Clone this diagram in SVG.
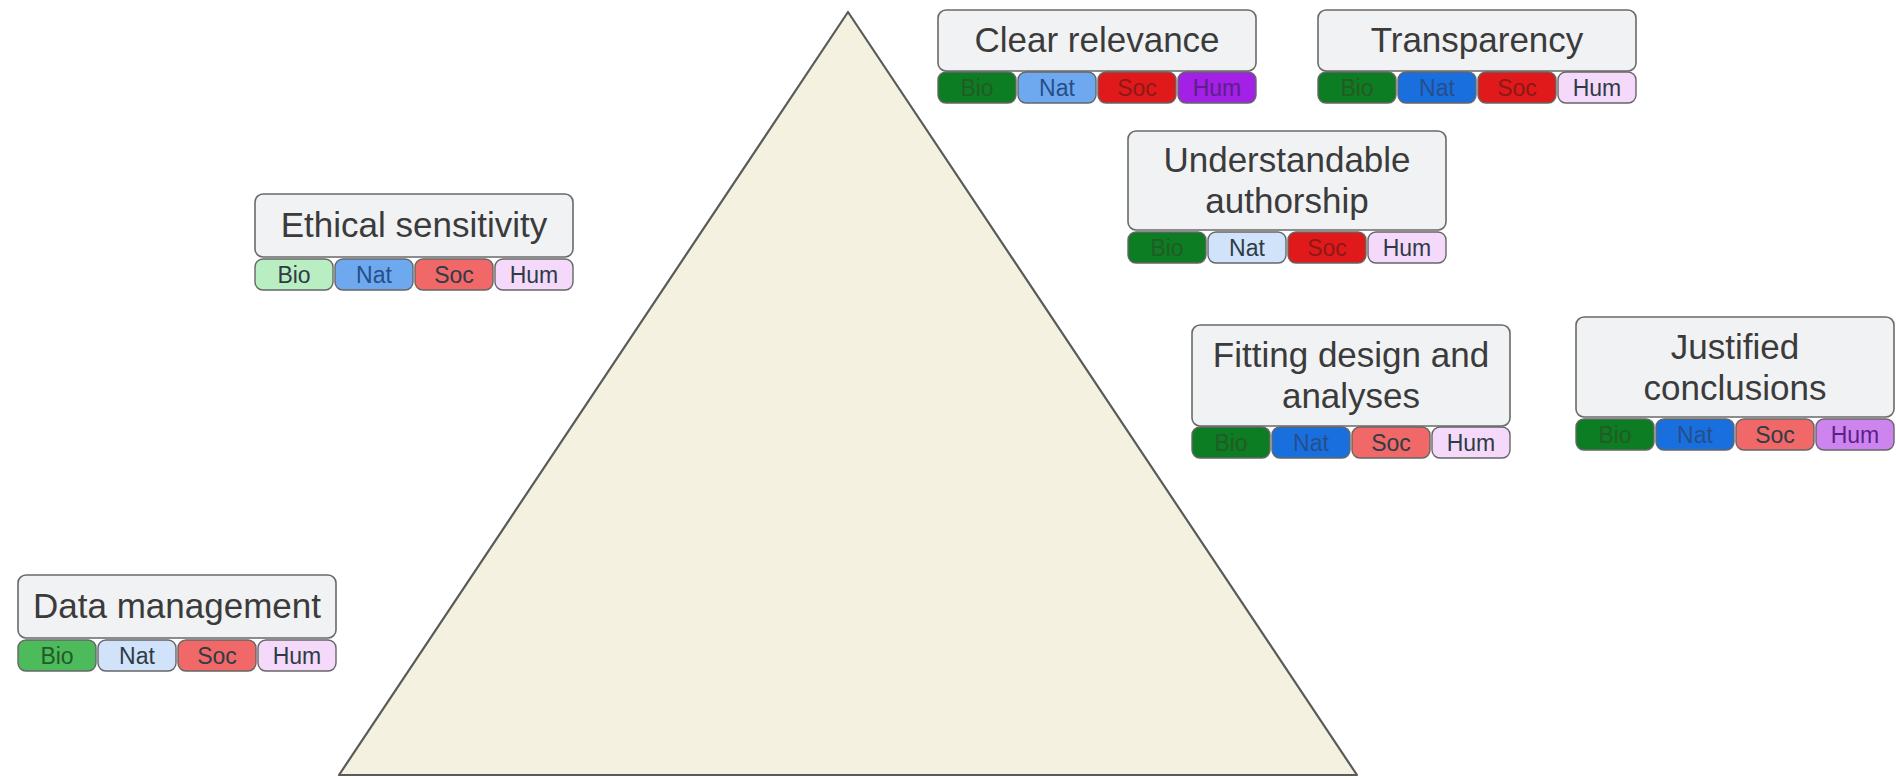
<svg xmlns="http://www.w3.org/2000/svg" width="1896" height="778" viewBox="0 0 1896 778">
  <style>
    .box { fill: #f1f2f4; stroke: #6a6a6a; stroke-width: 1.6; }
    .tag { stroke: #666; stroke-width: 1.4; }
    .title { font-family: "Liberation Sans", Arial, sans-serif; font-size: 35px; fill: #3b3b3b; text-anchor: middle; }
    .lbl { font-family: "Liberation Sans", Arial, sans-serif; font-size: 23px; text-anchor: middle; }
    /* tag fills */
    .bio-dark { fill: #0c7d22; } .bio-mid { fill: #4dba5c; } .bio-light { fill: #b9edc2; }
    .nat-dark { fill: #1a6fdf; } .nat-mid { fill: #6ea9f0; } .nat-light { fill: #d0e3fa; }
    .soc-dark { fill: #e01a1a; } .soc-mid { fill: #f06868; }
    .hum-dark { fill: #a320e6; } .hum-mid { fill: #cd84ef; } .hum-light { fill: #f4d9fb; }
    /* tag label colours */
    .t-bio-dark { fill: #245a27; } .t-dark { fill: #2f3b45; }
    .t-nat-dark { fill: #254f8a; } .t-soc-dark { fill: #8e1818; }
    .t-hum-dark { fill: #5d1f8a; }
  </style>

  <!-- pyramid -->
  <g id="pyramid">
    <polygon points="848,12 339,775 1357,775" fill="#f5f1e1" stroke="#5a5a5a" stroke-width="2.2" stroke-linejoin="round"/>
  </g>

  <g id="connectors"></g>

  <!-- Clear relevance -->
  <g id="clear-relevance">
    <rect class="box" x="938" y="10" width="318" height="61" rx="8"/>
    <text class="title" x="1097" y="52">Clear relevance</text>
    <rect class="tag bio-dark" x="938" y="72" width="78" height="31" rx="8"/>
    <rect class="tag nat-mid" x="1018" y="72" width="78" height="31" rx="8"/>
    <rect class="tag soc-dark" x="1098" y="72" width="78" height="31" rx="8"/>
    <rect class="tag hum-dark" x="1178" y="72" width="78" height="31" rx="8"/>
    <text class="lbl t-bio-dark" x="977" y="96">Bio</text>
    <text class="lbl t-nat-dark" x="1057" y="96">Nat</text>
    <text class="lbl t-soc-dark" x="1137" y="96">Soc</text>
    <text class="lbl t-hum-dark" x="1217" y="96">Hum</text>
  </g>

  <!-- Transparency -->
  <g id="transparency">
    <rect class="box" x="1318" y="10" width="318" height="61" rx="8"/>
    <text class="title" x="1477" y="52">Transparency</text>
    <rect class="tag bio-dark" x="1318" y="72" width="78" height="31" rx="8"/>
    <rect class="tag nat-dark" x="1398" y="72" width="78" height="31" rx="8"/>
    <rect class="tag soc-dark" x="1478" y="72" width="78" height="31" rx="8"/>
    <rect class="tag hum-light" x="1558" y="72" width="78" height="31" rx="8"/>
    <text class="lbl t-bio-dark" x="1357" y="96">Bio</text>
    <text class="lbl t-nat-dark" x="1437" y="96">Nat</text>
    <text class="lbl t-soc-dark" x="1517" y="96">Soc</text>
    <text class="lbl t-dark" x="1597" y="96">Hum</text>
  </g>

  <!-- Understandable authorship -->
  <g id="understandable-authorship">
    <rect class="box" x="1128" y="131" width="318" height="99" rx="8"/>
    <text class="title" x="1287" y="172">Understandable</text>
    <text class="title" x="1287" y="213">authorship</text>
    <rect class="tag bio-dark" x="1128" y="232" width="78" height="31" rx="8"/>
    <rect class="tag nat-light" x="1208" y="232" width="78" height="31" rx="8"/>
    <rect class="tag soc-dark" x="1288" y="232" width="78" height="31" rx="8"/>
    <rect class="tag hum-light" x="1368" y="232" width="78" height="31" rx="8"/>
    <text class="lbl t-bio-dark" x="1167" y="256">Bio</text>
    <text class="lbl t-dark" x="1247" y="256">Nat</text>
    <text class="lbl t-soc-dark" x="1327" y="256">Soc</text>
    <text class="lbl t-dark" x="1407" y="256">Hum</text>
  </g>

  <!-- Ethical sensitivity -->
  <g id="ethical-sensitivity">
    <rect class="box" x="255" y="194" width="318" height="63" rx="8"/>
    <text class="title" x="414" y="237">Ethical sensitivity</text>
    <rect class="tag bio-light" x="255" y="259" width="78" height="31" rx="8"/>
    <rect class="tag nat-mid" x="335" y="259" width="78" height="31" rx="8"/>
    <rect class="tag soc-mid" x="415" y="259" width="78" height="31" rx="8"/>
    <rect class="tag hum-light" x="495" y="259" width="78" height="31" rx="8"/>
    <text class="lbl t-dark" x="294" y="283">Bio</text>
    <text class="lbl t-nat-dark" x="374" y="283">Nat</text>
    <text class="lbl t-dark" x="454" y="283">Soc</text>
    <text class="lbl t-dark" x="534" y="283">Hum</text>
  </g>

  <!-- Fitting design and analyses -->
  <g id="fitting-design">
    <rect class="box" x="1192" y="325" width="318" height="101" rx="8"/>
    <text class="title" x="1351" y="367">Fitting design and</text>
    <text class="title" x="1351" y="408">analyses</text>
    <rect class="tag bio-dark" x="1192" y="427" width="78" height="31" rx="8"/>
    <rect class="tag nat-dark" x="1272" y="427" width="78" height="31" rx="8"/>
    <rect class="tag soc-mid" x="1352" y="427" width="78" height="31" rx="8"/>
    <rect class="tag hum-light" x="1432" y="427" width="78" height="31" rx="8"/>
    <text class="lbl t-bio-dark" x="1231" y="451">Bio</text>
    <text class="lbl t-nat-dark" x="1311" y="451">Nat</text>
    <text class="lbl t-dark" x="1391" y="451">Soc</text>
    <text class="lbl t-dark" x="1471" y="451">Hum</text>
  </g>

  <!-- Justified conclusions -->
  <g id="justified-conclusions">
    <rect class="box" x="1576" y="317" width="318" height="100" rx="8"/>
    <text class="title" x="1735" y="359">Justified</text>
    <text class="title" x="1735" y="400">conclusions</text>
    <rect class="tag bio-dark" x="1576" y="419" width="78" height="31" rx="8"/>
    <rect class="tag nat-dark" x="1656" y="419" width="78" height="31" rx="8"/>
    <rect class="tag soc-mid" x="1736" y="419" width="78" height="31" rx="8"/>
    <rect class="tag hum-mid" x="1816" y="419" width="78" height="31" rx="8"/>
    <text class="lbl t-bio-dark" x="1615" y="443">Bio</text>
    <text class="lbl t-nat-dark" x="1695" y="443">Nat</text>
    <text class="lbl t-dark" x="1775" y="443">Soc</text>
    <text class="lbl t-hum-dark" x="1855" y="443">Hum</text>
  </g>

  <!-- Data management -->
  <g id="data-management">
    <rect class="box" x="18" y="575" width="318" height="63" rx="8"/>
    <text class="title" x="177" y="618">Data management</text>
    <rect class="tag bio-mid" x="18" y="640" width="78" height="31" rx="8"/>
    <rect class="tag nat-light" x="98" y="640" width="78" height="31" rx="8"/>
    <rect class="tag soc-mid" x="178" y="640" width="78" height="31" rx="8"/>
    <rect class="tag hum-light" x="258" y="640" width="78" height="31" rx="8"/>
    <text class="lbl t-bio-dark" x="57" y="664">Bio</text>
    <text class="lbl t-dark" x="137" y="664">Nat</text>
    <text class="lbl t-dark" x="217" y="664">Soc</text>
    <text class="lbl t-dark" x="297" y="664">Hum</text>
  </g>
</svg>
